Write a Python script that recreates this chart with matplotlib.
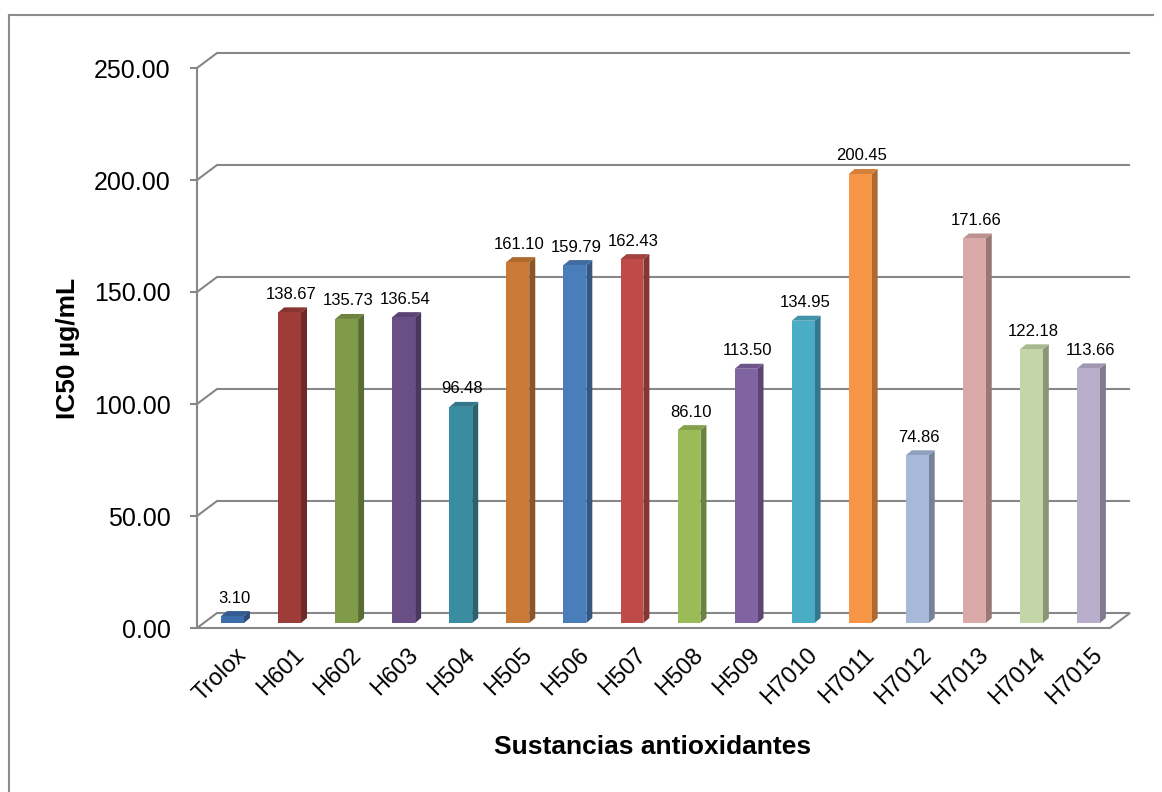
import numpy as np
import matplotlib.pyplot as plt
from matplotlib.patches import Polygon
from matplotlib.transforms import ScaledTranslation
from matplotlib.colors import to_rgb

plt.rcParams['font.family'] = ['Liberation Sans', 'DejaVu Sans']

# IC50 values per substance
sustancias = ['Trolox', 'H601', 'H602', 'H603', 'H504', 'H505', 'H506', 'H507',
              'H508', 'H509', 'H7010', 'H7011', 'H7012', 'H7013', 'H7014', 'H7015']
ic50 = [3.10, 138.67, 135.73, 136.54, 96.48, 161.10, 159.79, 162.43,
        86.10, 113.50, 134.95, 200.45, 74.86, 171.66, 122.18, 113.66]
colores = ['#3d6dab', '#9e3c39', '#7f9a48', '#6a4f87', '#3a8ca1', '#c97a36',
           '#4a7ebb', '#be4b48', '#9bbb59', '#8064a2', '#4bacc6', '#f79646',
           '#a7b9d9', '#d9aaa8', '#c4d6a8', '#b9aecb']
yticks = [0, 50, 100, 150, 200, 250]

W, H = 1162, 792
fig = plt.figure(figsize=(W / 100, H / 100), dpi=100)
# front plane of the 3D box
x0, x1, y0, y1 = 197, 1110, 628, 68
ax = fig.add_axes([x0 / W, 1 - y0 / H, (x1 - x0) / W, (y0 - y1) / H])
ax.set_xlim(-0.5, len(sustancias) - 0.5)
ax.set_ylim(0, 250)
for s in ax.spines.values():
    s.set_visible(False)
ax.patch.set_visible(False)

# pixel -> data unit helpers
px_x = (len(sustancias)) / (x1 - x0)
px_y = 250 / (y0 - y1)


def shift(dx_px, dy_px):
    return ax.transData + ScaledTranslation(dx_px / 100, dy_px / 100, fig.dpi_scale_trans)


grid_c = '#878787'
lw = 1.5
wall_dx, wall_dy = 20, 15
n = len(sustancias)
wx, wy = wall_dx * px_x, wall_dy * px_y

# floor
floor = Polygon([(-0.5, 0), (n - 0.5, 0), (n - 0.5 + wx, wy), (-0.5 + wx, wy)],
                closed=True, facecolor='white', edgecolor=grid_c, lw=lw, zorder=1,
                clip_on=False)
ax.add_patch(floor)

# back wall gridlines and side-wall diagonals
for v in yticks[1:]:
    ax.plot([-0.5 + wx, n - 0.5 + wx], [v + wy] * 2, color=grid_c, lw=lw, zorder=1,
            solid_capstyle='butt', clip_on=False)
    ax.plot([-0.5, -0.5 + wx], [v, v + wy], color=grid_c, lw=lw, zorder=1,
            clip_on=False)
ax.plot([-0.5, -0.5], [0, 250], color=grid_c, lw=lw, zorder=1,
        solid_capstyle='butt', clip_on=False)

# y ticks
ax.set_yticks(yticks)
ax.set_yticklabels([f'{v:.2f}' for v in yticks], fontsize=18)
ax.tick_params(axis='y', length=5, width=lw, color=grid_c, pad=14)
ax.set_xticks([])

# 3D bars
bar_w = 0.40
bdx, bdy = 7, 5          # bar front plane offset
ddx, ddy = 6 * px_x, 5 * px_y  # bar depth
tf = shift(bdx, bdy)
xs = np.arange(n)
for x, v, c in zip(xs, ic50, colores):
    rgb = np.array(to_rgb(c))
    side = rgb * 0.70
    top = rgb * 0.86
    l, r = x - bar_w / 2, x + bar_w / 2
    ax.add_patch(Polygon([(r, 0), (r + ddx, ddy), (r + ddx, v + ddy), (r, v)],
                         closed=True, facecolor=side, edgecolor='none',
                         transform=tf, zorder=3, clip_on=False))
    ax.add_patch(Polygon([(l, v), (r, v), (r + ddx, v + ddy), (l + ddx, v + ddy)],
                         closed=True, facecolor=top, edgecolor='none',
                         transform=tf, zorder=3, clip_on=False))
    ax.add_patch(Polygon([(l, 0), (r, 0), (r, v), (l, v)],
                         closed=True, facecolor=rgb, edgecolor='none',
                         transform=tf, zorder=4, clip_on=False))
    ax.annotate(f'{v:.2f}', xy=(x + ddx / 2, v + ddy), xycoords=tf,
                xytext=(-1, 4), textcoords='offset points',
                ha='center', va='bottom', fontsize=12, zorder=5)

# rotated category labels
lab_tf = shift(10, -16)
for x, name in zip(xs, sustancias):
    ax.text(x, 0, name, transform=lab_tf, rotation=45, rotation_mode='anchor',
            ha='right', va='top', fontsize=17)

fig.text(68 / W, 1 - 348 / H, 'IC50 µg/mL', rotation=90, ha='center', va='center',
         fontsize=19, fontweight='bold')
fig.text(653 / W, 1 - 747 / H, 'Sustancias antioxidantes', ha='center', va='center',
         fontsize=19, fontweight='bold')

# chart area border
fig.add_artist(plt.Line2D([9 / W, 9 / W], [0, 1 - 15 / H], color='#8c8c8c', lw=1.5,
                          transform=fig.transFigure))
fig.add_artist(plt.Line2D([9 / W, 1153 / W], [1 - 15 / H, 1 - 15 / H], color='#8c8c8c',
                          lw=1.5, transform=fig.transFigure))

fig.savefig('out.png', dpi=100)
